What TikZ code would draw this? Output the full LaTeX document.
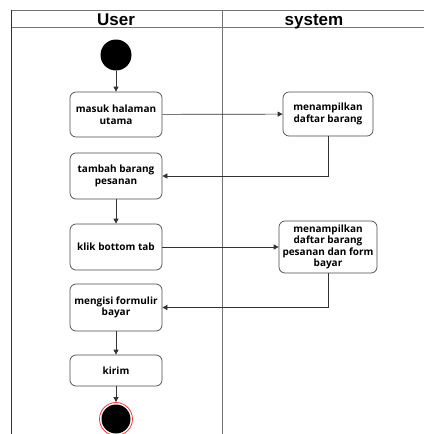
\documentclass[tikz,border=0pt]{standalone}
\usepackage{fontspec}
\setmainfont{Open Sans}
\newfontfamily\hdrfont{Liberation Sans}
\usetikzlibrary{arrows.meta}
\tikzset{
  act/.style={draw=black!70, line width=0.7pt, rounded corners=6pt, fill=white,
    align=center, font=\fontsize{10}{11.5}\selectfont\bfseries, inner sep=1pt},
  lane/.style={draw=black!55, line width=1pt},
  flow/.style={draw=black!80, line width=0.7pt, -{Triangle[length=5pt,width=5pt]}},
  hdr/.style={font=\hdrfont\fontsize{17}{17}\selectfont\bfseries, anchor=base, inner sep=0},
}
\begin{document}
\begin{tikzpicture}[x=1pt,y=-1pt]
\useasboundingbox (0,0) rectangle (424,434);
% swimlanes
\draw[lane] (11,10) -- (424,10);
\draw[lane] (11,27.5) -- (424,27.5);
\draw[lane, draw=black!80] (11,10) -- (11,434);
\draw[lane] (222,10) -- (222,434);
\node[hdr] (hu) at (116,25.5) {User};
\node[hdr] (hs) at (314,25.5) {system};
% nodes
\node[circle, fill=black, minimum size=31pt, inner sep=0] (start) at (116,55) {};
\node[act, minimum width=92pt, minimum height=45pt] (a1) at (116,114.5) {masuk halaman\\utama};
\node[act, minimum width=90pt, minimum height=44pt] (s1) at (328,114) {menampilkan\\daftar barang};
\node[act, minimum width=92pt, minimum height=46pt] (a2) at (116,176) {tambah barang\\pesanan};
\node[act, minimum width=92pt, minimum height=46pt] (a3) at (116,247) {klik bottom tab};
\node[act, minimum width=98pt, minimum height=52pt] (s2) at (328,247) {menampilkan\\daftar barang\\pesanan dan form\\bayar};
\node[act, minimum width=92pt, minimum height=47pt] (a4) at (116,307.5) {mengisi formulir\\bayar};
\node[act, minimum width=92pt, minimum height=31pt] (a5) at (116,370.5) {kirim};
\node[circle, draw=red!80, line width=0.8pt, minimum size=33pt, inner sep=0] (endo) at (116,419) {};
\node[circle, fill=black, minimum size=29pt, inner sep=0] (endi) at (116,419) {};
% flows
\draw[flow] (start) -- (a1);
\draw[flow] (a1) -- (s1);
\draw[flow] (s1.south) |- (a2.east);
\draw[flow] (a2) -- (a3);
\draw[flow] (a3) -- (s2);
\draw[flow] (s2.south) |- (a4.east);
\draw[flow] (a4) -- (a5);
\draw[flow] (a5) -- (endo);
\end{tikzpicture}
\end{document}
